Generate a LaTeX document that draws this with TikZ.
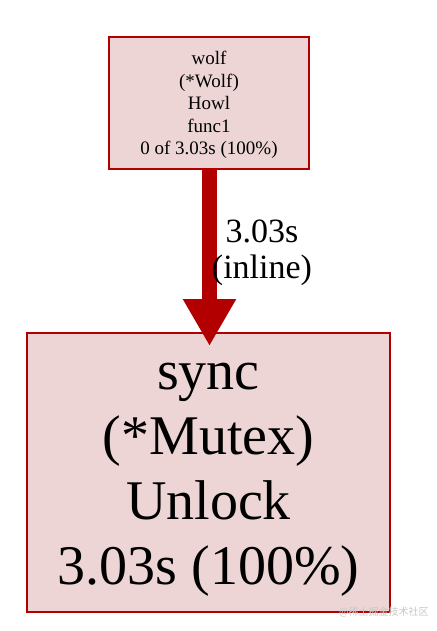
\documentclass[tikz,border=0pt]{standalone}
\usepackage{fontspec}
\setmainfont{Liberation Serif}
\newfontfamily\cjk{Noto Sans CJK SC}
\usetikzlibrary{arrows.meta}
\definecolor{edgered}{HTML}{B20000}
\definecolor{boxfill}{HTML}{EDD5D5}
\begin{document}
\begin{tikzpicture}[x=1pt,y=-1pt,
  fnode/.style={draw=edgered, line width=2pt, fill=boxfill, inner sep=0pt},
  ftext/.style={align=center, text=black, inner sep=0pt}]
\useasboundingbox (0,0) rectangle (436,631);
\node[fnode, minimum width=200pt, minimum height=132pt] (top) at (209,103) {};
\node[ftext, font=\fontsize{19}{22.5}\selectfont] (toptext) at (209,105)
  {wolf\\(*Wolf)\\Howl\\func1\\0 of 3.03s (100\%)};
\node[fnode, minimum width=363pt, minimum height=279pt] (bot) at (208.5,472.5) {};
\node[ftext, font=\fontsize{56}{65}\selectfont] (bottext) at (208.5,480)
  {sync\\(*Mutex)\\Unlock\\3.03s (100\%)};
\draw[edgered, line width=15pt, -{Triangle[width=50pt,length=47pt]}, shorten >=-14pt]
  (top.south -| 209.5,0) -- (bot.north -| 209.5,0);
\node[ftext, font=\fontsize{34}{36}\selectfont] (lbl) at (262,253)
  {3.03s\\(inline)};
\node[text=black!22, font=\cjk\fontsize{10}{12}\selectfont, anchor=west, inner sep=0pt] (wm) at (339,612)
  {@稀土掘金技术社区};
\end{tikzpicture}
\end{document}
